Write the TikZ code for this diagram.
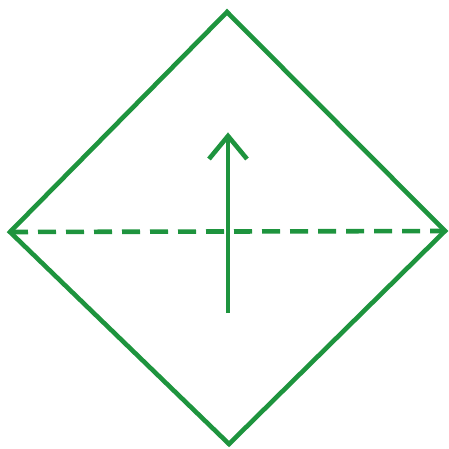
\documentclass[tikz,border=0pt]{standalone}
\usetikzlibrary{arrows.meta}
\definecolor{lgreen}{RGB}{30,148,62}
\begin{document}
\begin{tikzpicture}[x=1pt,y=-1pt,
  shape line/.style={draw=lgreen,line width=4.6pt,line join=miter},
  fold line/.style={draw=lgreen,line width=4.6pt,dash pattern=on 18pt off 10pt}]
\useasboundingbox (0,0) rectangle (449,449);
\coordinate (T) at (227,12);
\coordinate (L) at (10,232);
\coordinate (R) at (445,231);
\coordinate (B) at (229,444);
\coordinate (A0) at (228,313);
\coordinate (A1) at (228,136);
\path[shape line] (T) -- (R) -- (B) -- (L) -- cycle;
\path[fold line] (L) -- (R);
\path[shape line] (A0) -- (A1);
\path[shape line] (209,159) -- (A1) -- (247,159);
\end{tikzpicture}
\end{document}
